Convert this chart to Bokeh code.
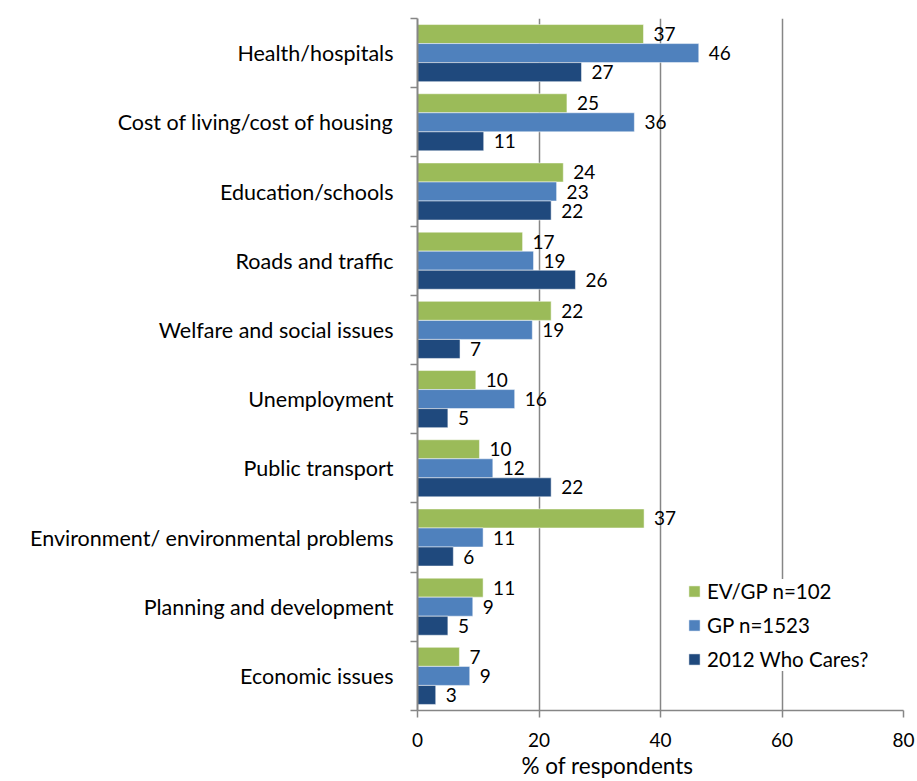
from bokeh.plotting import figure
from bokeh.models import Range1d, FixedTicker, ColumnDataSource, LabelSet, Title, Legend, LegendItem
from bokeh.core.properties import value
from bokeh.embed import file_html
from bokeh.resources import INLINE

categories = ["Health/hospitals", "Cost of living/cost of housing", "Education/schools",
              "Roads and traffic", "Welfare and social issues", "Unemployment",
              "Public transport", "Environment/ environmental problems",
              "Planning and development", "Economic issues"]
ev_gp = [37.2, 24.6, 24.0, 17.3, 22.0, 9.6, 10.2, 37.3, 10.8, 6.9]
gp = [46.3, 35.7, 22.9, 19.1, 18.9, 16.0, 12.4, 10.8, 9.1, 8.6]
who_cares = [27.0, 10.9, 22.0, 26.0, 7.0, 5.0, 22.0, 5.9, 5.0, 3.0]
series_names = ["EV/GP n=102", "GP n=1523", "2012 Who Cares?"]
colors = ["#9BBB59", "#4F81BD", "#1F497D"]
x_ticks = [0, 20, 40, 60, 80]

FONT = "Lato"
FS_CAT = "21.5px"
FS = "19px"
FS_LEG = "20.5px"
FS_AX = "22.5px"
GRID = "#868686"

n = len(categories)
centers = [n - i - 0.5 for i in range(n)]
bounds = list(range(n + 1))
bar_h = 0.275
offsets = [bar_h, 0.0, -bar_h]

p = figure(width=917, height=781, output_backend="svg", toolbar_location=None,
           x_range=Range1d(0, 80), y_range=Range1d(0, n),
           min_border_left=417, min_border_right=14, min_border_top=18, min_border_bottom=71)
p.outline_line_color = None
p.background_fill_color = "white"
p.border_fill_color = "white"

p.ygrid.grid_line_color = None
p.xgrid.ticker = FixedTicker(ticks=x_ticks)
p.xgrid.grid_line_color = GRID
p.xgrid.grid_line_width = 1.5

renderers = []
for vals, name, col, off in zip([ev_gp, gp, who_cares], series_names, colors, offsets):
    ys = [c + off for c in centers]
    src = ColumnDataSource(dict(y=ys, right=vals, lab=[f"{v:.0f}" for v in vals]))
    r = p.hbar(y="y", left=0, right="right", height=bar_h, source=src,
               fill_color=col, line_color="white", line_alpha=0.5, line_width=1)
    renderers.append((name, r))
    p.add_layout(LabelSet(x="right", y="y", text="lab", source=src, x_offset=10,
                          text_baseline="middle", text_align="left",
                          text_font=value(FONT), text_font_size=value(FS),
                          text_color="black"))

# x axis
xa = p.xaxis[0]
xa.ticker = FixedTicker(ticks=x_ticks)
xa.axis_line_color = GRID
xa.axis_line_width = 1.5
xa.major_tick_line_color = GRID
xa.major_tick_line_width = 1.5
xa.major_tick_out = 7
xa.major_tick_in = 0
xa.minor_tick_line_color = None
xa.major_label_text_font = FONT
xa.major_label_text_font_size = FS
xa.major_label_text_color = "black"
xa.major_label_standoff = 15

# y axis
ya = p.yaxis[0]
ya.ticker = FixedTicker(ticks=centers, minor_ticks=bounds)
ya.major_label_overrides = {c: cat for c, cat in zip(centers, categories)}
ya.axis_line_color = GRID
ya.axis_line_width = 2
ya.major_tick_line_color = None
ya.major_tick_out = 0
ya.major_tick_in = 0
ya.minor_tick_line_color = GRID
ya.minor_tick_line_width = 1.5
ya.minor_tick_out = 7
ya.minor_tick_in = 0
ya.major_label_text_font = FONT
ya.major_label_text_font_size = FS_CAT
ya.major_label_text_color = "black"
ya.major_label_standoff = 17

p.add_layout(Title(text="% of respondents", align="left", offset=104, standoff=0,
                   text_font=FONT, text_font_size=FS_AX, text_font_style="normal",
                   text_color="black"), "below")

legend = Legend(items=[LegendItem(label=nm, renderers=[r]) for nm, r in renderers],
                location=(270, 39), background_fill_color="white", background_fill_alpha=1,
                border_line_color=None, padding=5, margin=0, spacing=10,
                glyph_width=14, glyph_height=14, label_height=20,
                label_text_font=FONT, label_text_font_size=FS_LEG, label_text_color="black",
                label_standoff=6)
p.add_layout(legend, "center")

open("out.html", "w").write(file_html(p, INLINE))
